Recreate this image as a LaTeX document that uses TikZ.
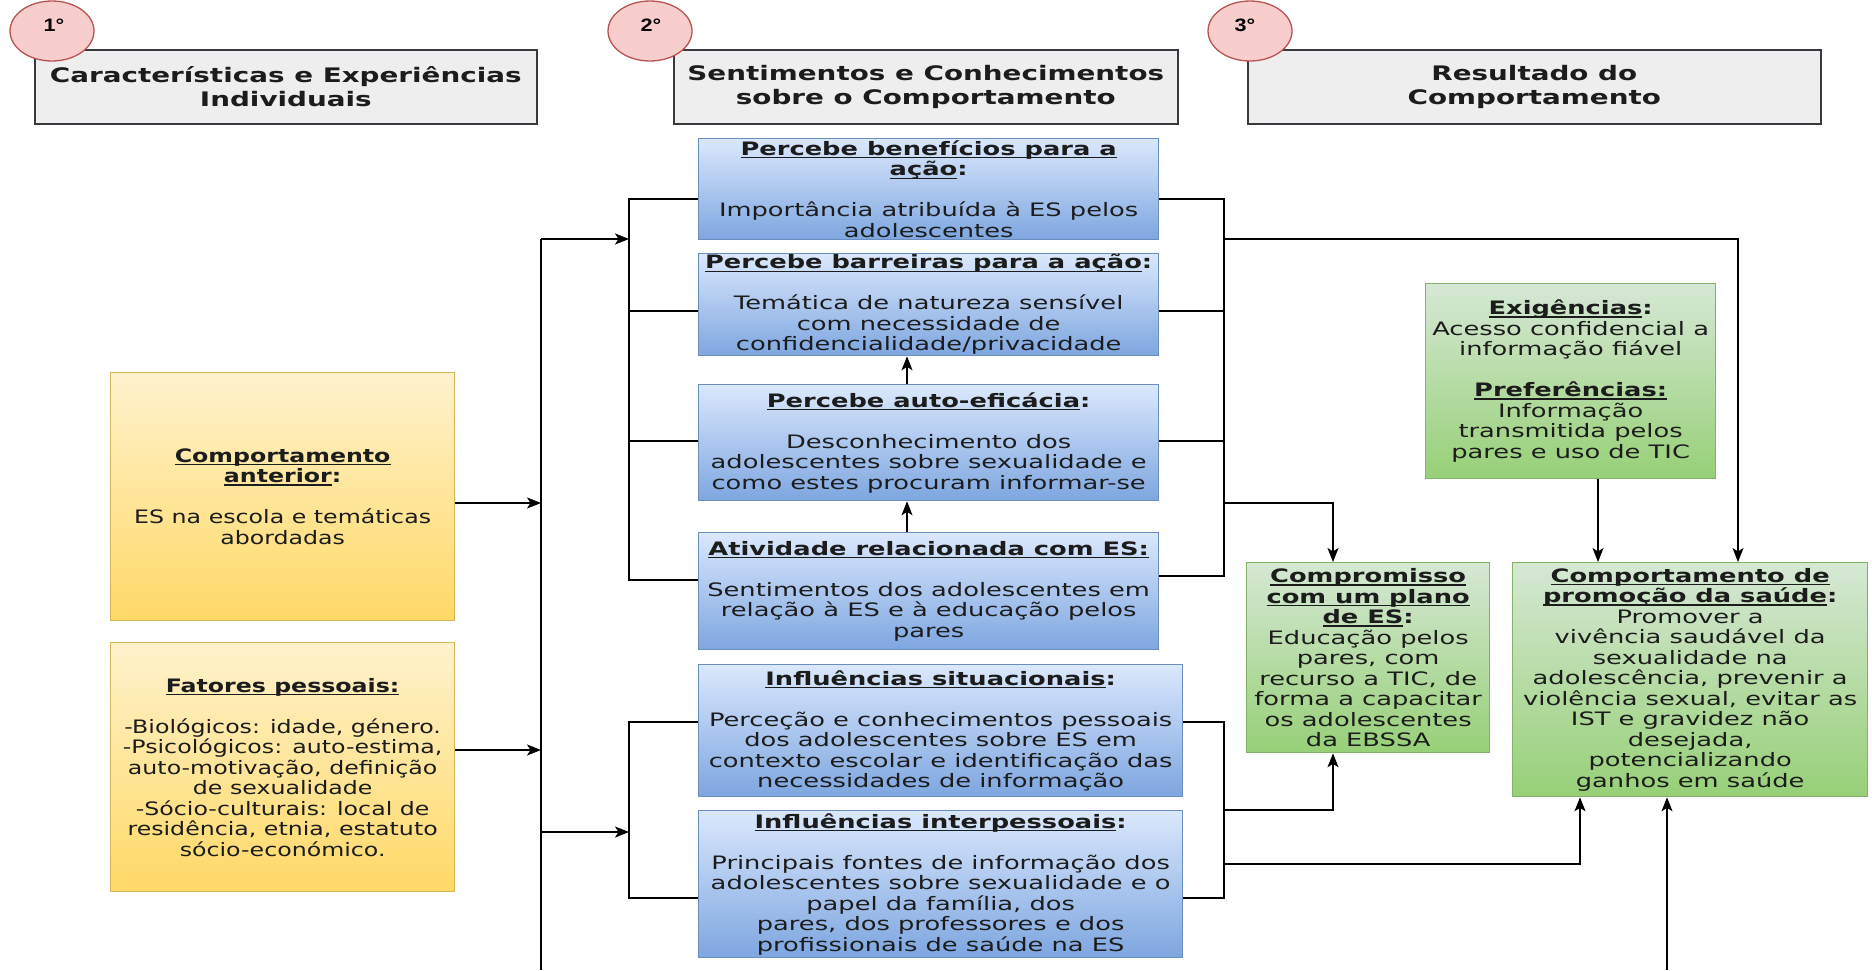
\documentclass[tikz,border=0pt]{standalone}
\usepackage{fontspec}
\setmainfont{DejaVu Sans}[FakeStretch=1.39]
\newfontfamily\yelfont{DejaVu Sans}[FakeStretch=1.28]
\newfontfamily\numfont{Liberation Sans}[FakeStretch=1.2]
\usetikzlibrary{arrows.meta,shapes.geometric}
\definecolor{hdrfill}{HTML}{EEEEEE}
\definecolor{hdrline}{HTML}{36393D}
\definecolor{circfill}{HTML}{F8CECC}
\definecolor{circline}{HTML}{B85450}
\definecolor{bluetop}{HTML}{DAE8FC}
\definecolor{bluebot}{HTML}{7EA6E0}
\definecolor{blueline}{HTML}{6C8EBF}
\definecolor{yeltop}{HTML}{FFF2CC}
\definecolor{yelbot}{HTML}{FFD966}
\definecolor{yelline}{HTML}{D6B656}
\definecolor{grntop}{HTML}{D5E8D4}
\definecolor{grnbot}{HTML}{97D077}
\definecolor{grnline}{HTML}{82B366}
\definecolor{txt}{HTML}{1C1C1C}
\newsavebox\ulbox
\newcommand{\ulx}[1]{\sbox\ulbox{#1}\rlap{\rule[-3bp]{\wd\ulbox}{1.4bp}}\usebox\ulbox}
\newcommand{\ttl}[1]{\textbf{#1}}
\newcommand{\bodyfont}{\fontsize{18.5bp}{20.5bp}\selectfont}
\newcommand{\yelbody}{\yelfont\fontsize{18.5bp}{20.5bp}\selectfont}
\newcommand{\hdrfont}{\fontsize{20bp}{23.5bp}\selectfont\bfseries}
\tikzset{
  box/.style={rectangle, anchor=north west, inner sep=0pt, align=center, line width=1.3bp, text=txt, font=\bodyfont},
  hdr/.style={box, draw=hdrline, fill=hdrfill, font=\hdrfont, line width=1.6bp, minimum height=74bp},
  bluebox/.style={box, draw=blueline, top color=bluetop, bottom color=bluebot},
  yelbox/.style={box, draw=yelline, top color=yeltop, bottom color=yelbot, font=\yelbody},
  grnbox/.style={box, draw=grnline, top color=grntop, bottom color=grnbot},
  numc/.style={ellipse, draw=circline, fill=circfill, line width=1.3bp, minimum width=84bp, minimum height=60bp, inner sep=0pt},
  numt/.style={inner sep=0pt, font=\numfont\fontsize{18bp}{20bp}\selectfont\bfseries, text=black},
  conn/.style={line width=1.6bp, draw=black},
  arr/.style={conn, -{Stealth[length=14bp,width=11bp,inset=3.5bp]}}
}
\begin{document}
\begin{tikzpicture}[x=1bp,y=-1bp]
\useasboundingbox (0,0) rectangle (1872,970);
\fill[white] (0,0) rectangle (1872,970);

% headers
\node[hdr, minimum width=502bp] (H1) at (34,49) {Características e Experiências\\Individuais};
\node[hdr, minimum width=504bp] (H2) at (673,49) {Sentimentos e Conhecimentos\\sobre o Comportamento};
\node[hdr, minimum width=573bp] (H3) at (1247,49) {Resultado do\\Comportamento};

% step circles
\node[numc] (C1) at (52,31) {};
\node[numc] (C2) at (650,31) {};
\node[numc] (C3) at (1250,31) {};
\node[numt] (N1) at (54,25) {1°};
\node[numt] (N2) at (651,25) {2°};
\node[numt] (N3) at (1245,25) {3°};

% yellow boxes
\node[yelbox, minimum width=344bp, minimum height=248bp] (CA) at (110,372)
 {\ttl{\ulx{Comportamento}}\\\ttl{\ulx{anterior}:}\\[20.5bp]ES na escola e temáticas\\abordadas};
\node[yelbox, minimum width=344bp, minimum height=249bp] (FP) at (110,642)
 {\ttl{\ulx{Fatores pessoais:}}\\[20.5bp]-Biológicos: idade, género.\\-Psicológicos: auto-estima,\\auto-motivação, definição\\de sexualidade\\ -Sócio-culturais: local de\\residência, etnia, estatuto\\sócio-económico.};

% blue boxes
\node[bluebox, minimum width=460bp, minimum height=101bp] (B1) at (698,138)
 {\ttl{\ulx{Percebe benefícios para a}}\\\ttl{\ulx{ação}:}\\[20.5bp]Importância atribuída à ES pelos\\adolescentes};
\node[bluebox, minimum width=460bp, minimum height=102bp] (B2) at (698,253)
 {\ttl{\ulx{Percebe barreiras para a ação}:}\\[20.5bp]Temática de natureza sensível\\com necessidade de\\confidencialidade/privacidade};
\node[bluebox, minimum width=460bp, minimum height=116bp] (B3) at (698,384)
 {\ttl{\ulx{Percebe auto-eficácia}:}\\[20.5bp]Desconhecimento dos\\adolescentes sobre sexualidade e\\como estes procuram informar-se};
\node[bluebox, minimum width=460bp, minimum height=117bp] (B4) at (698,532)
 {\ttl{\ulx{Atividade relacionada com ES:}}\\[20.5bp]Sentimentos dos adolescentes em\\relação à ES e à educação pelos\\pares};
\node[bluebox, minimum width=484bp, minimum height=132bp] (B5) at (698,664)
 {\ttl{\ulx{Influências situacionais}:}\\[20.5bp]Perceção e conhecimentos pessoais\\dos adolescentes sobre ES em\\contexto escolar e identificação das\\necessidades de informação};
\node[bluebox, minimum width=484bp, minimum height=147bp] (B6) at (698,810)
 {\ttl{\ulx{Influências interpessoais}:}\\[20.5bp]Principais fontes de informação dos\\adolescentes sobre sexualidade e o\\papel da família, dos\\pares, dos professores e dos\\profissionais de saúde na ES};

% green boxes
\node[grnbox, minimum width=290bp, minimum height=195bp] (G1) at (1425,283)
 {\ttl{\ulx{Exigências}:}\\Acesso confidencial a\\informação fiável\\[20.5bp]\ttl{\ulx{Preferências:}}\\Informação\\transmitida pelos\\pares e uso de TIC};
\node[grnbox, minimum width=243bp, minimum height=190bp] (G2) at (1246,562)
 {\ttl{\ulx{Compromisso}}\\\ttl{\ulx{com um plano}}\\\ttl{\ulx{de ES}:}\\Educação pelos\\pares, com\\recurso a TIC, de\\forma a capacitar\\os adolescentes\\da EBSSA};
\node[grnbox, minimum width=355bp, minimum height=234bp] (G3) at (1512,562)
 {\ttl{\ulx{Comportamento de}}\\\ttl{\ulx{promoção da saúde}:}\\Promover a\\vivência saudável da\\sexualidade na\\adolescência, prevenir a\\violência sexual, evitar as\\IST e gravidez não\\desejada,\\potencializando\\ganhos em saúde};

% trunk and inputs
\coordinate (tTop) at (541,239);
\coordinate (tBot) at (541,970);
\draw[conn, line width=2.2bp] (tTop) -- (tBot);
\coordinate (caIn) at (541,503);
\draw[arr] (CA.east |- caIn) -- (caIn);
\coordinate (fpIn) at (541,750);
\draw[arr] (FP.east |- fpIn) -- (fpIn);
\coordinate (ulA) at (629,239);
\draw[arr] (tTop) -- (ulA);
\coordinate (llA) at (629,832);
\draw[arr] (tTop |- llA) -- (llA);

% upper brackets
\coordinate (ul1) at (629,199); \coordinate (ul4) at (629,580);
\draw[conn] (B1.west |- ul1) -- (ul1) -- (ul4) -- (B4.west |- ul4);
\coordinate (ul2) at (629,311); \draw[conn] (B2.west |- ul2) -- (ul2);
\coordinate (ul3) at (629,441); \draw[conn] (B3.west |- ul3) -- (ul3);
\coordinate (ur1) at (1224,199); \coordinate (ur4) at (1224,576);
\draw[conn] (B1.east |- ur1) -- (ur1) -- (ur4) -- (B4.east |- ur4);
\coordinate (ur2) at (1224,311); \draw[conn] (B2.east |- ur2) -- (ur2);
\coordinate (ur3) at (1224,441); \draw[conn] (B3.east |- ur3) -- (ur3);

% lower brackets
\coordinate (ll1) at (629,722); \coordinate (ll2) at (629,898);
\draw[conn] (B5.west |- ll1) -- (ll1) -- (ll2) -- (B6.west |- ll2);
\coordinate (lr1) at (1224,722); \coordinate (lr2) at (1224,898);
\draw[conn] (B5.east |- lr1) -- (lr1) -- (lr2) -- (B6.east |- lr2);

% arrows between blue boxes
\coordinate (ax) at (907,0);
\draw[arr] (B4.north -| ax) -- (B3.south -| ax);
\draw[arr] (B3.north -| ax) -- (B2.south -| ax);

% outputs
\coordinate (urG) at (1224,239); \coordinate (g3a) at (1738,0);
\draw[arr] (urG) -| (G3.north -| g3a);
\coordinate (urC) at (1224,503); \coordinate (g2x) at (1333,0);
\draw[arr] (urC) -| (G2.north -| g2x);
\coordinate (lrC) at (1224,810);
\draw[arr] (lrC) -| (G2.south -| g2x);
\coordinate (lrG) at (1224,864); \coordinate (g3b) at (1580,0);
\draw[arr] (lrG) -| (G3.south -| g3b);
\coordinate (g1x) at (1598,0);
\draw[arr] (G1.south -| g1x) -- (G3.north -| g1x);
\coordinate (tEnd) at (1667,970);
\draw[arr] (tEnd) -- (G3.south -| tEnd);
\end{tikzpicture}
\end{document}
